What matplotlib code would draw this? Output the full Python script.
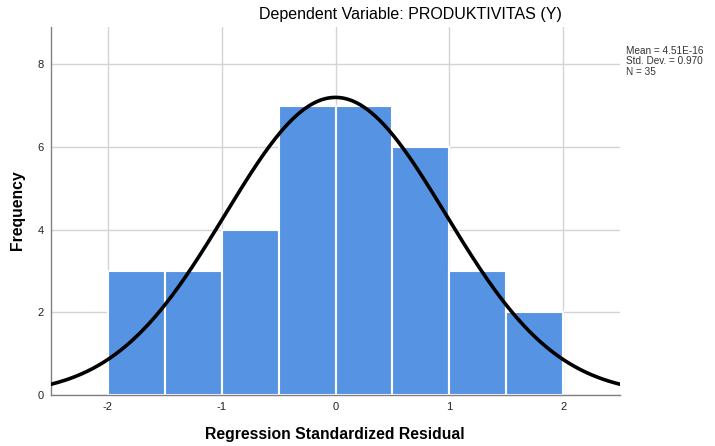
import numpy as np
import matplotlib.pyplot as plt

plt.rcParams['font.family'] = ['Liberation Sans', 'DejaVu Sans']
plt.rcParams['axes.unicode_minus'] = False

bin_edges = [-2.0, -1.5, -1.0, -0.5, 0.0, 0.5, 1.0, 1.5, 2.0]
counts = [3, 3, 4, 7, 7, 6, 3, 2]
mean = 4.51e-16
std = 0.970
n = 35

fig = plt.figure(figsize=(7.15, 4.46), dpi=100)
ax = fig.add_axes([51 / 715, 1 - 395 / 446, (620 - 51) / 715, (395 - 27) / 446])

lefts = np.array(bin_edges[:-1])
widths = np.diff(bin_edges)
ax.bar(lefts, counts, width=widths, align='edge', color='#5694E3',
       edgecolor='white', linewidth=1.5, zorder=2)

xs = np.linspace(-2.5, 2.5, 400)
binw = widths[0]
ys = n * binw / (std * np.sqrt(2 * np.pi)) * np.exp(-0.5 * ((xs - mean) / std) ** 2)
ax.plot(xs, ys, color='black', lw=2.6, zorder=3)

ax.set_xlim(-2.5, 2.5)
ax.set_ylim(0, 8.9)
ax.set_xticks([-2, -1, 0, 1, 2])
ax.set_yticks([0, 2, 4, 6, 8])
ax.grid(True, color='#d4d4d4', lw=1.0, zorder=0)
ax.set_axisbelow(True)
for s in ['top', 'right']:
    ax.spines[s].set_visible(False)
for s in ['left', 'bottom']:
    ax.spines[s].set_color('#808080')
    ax.spines[s].set_linewidth(1.0)
ax.tick_params(length=0, labelsize=8, colors='#222222', pad=5)

fig.text(335 / 715, 1 - 435 / 446, 'Regression Standardized Residual',
         ha='center', va='center', fontsize=11.3, fontweight='bold')
fig.text(18 / 715, 1 - 210 / 446, 'Frequency', rotation=90,
         ha='center', va='center', fontsize=11.3, fontweight='bold')

fig.text(410 / 715, 1 - 14 / 446, 'Dependent Variable: PRODUKTIVITAS (Y)',
         ha='center', va='center', fontsize=11.5)
fig.text(626 / 715, 1 - 46 / 446, 'Mean = 4.51E-16\nStd. Dev. = 0.970\nN = 35',
         ha='left', va='top', fontsize=7.2, linespacing=1.05, color='#333333')

fig.savefig('out.png', dpi=100)
